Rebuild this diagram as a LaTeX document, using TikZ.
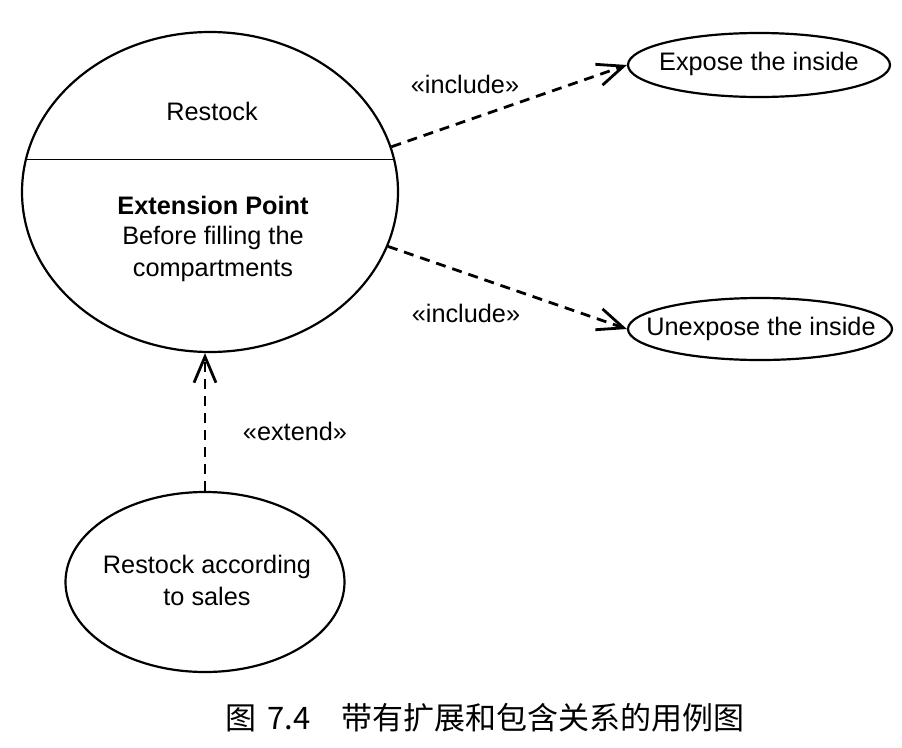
\documentclass[tikz,border=0pt]{standalone}
\usepackage{fontspec}
\setmainfont{Liberation Sans}
\newfontfamily\cjk{Noto Sans CJK SC}
\usetikzlibrary{shapes.geometric,arrows.meta}
\tikzset{
  usecase/.style={draw, ellipse, line width=2.2pt, inner sep=0pt},
  lbl/.style={font=\fontsize{25.3}{32}\selectfont, inner sep=0pt, align=center},
  dep/.style={line width=2.8pt, dash pattern=on 10pt off 7pt,
    -{Straight Barb[length=26pt,width=22pt,line width=2.8pt]}},
}
\begin{document}
\begin{tikzpicture}[x=1pt,y=-1pt]
\useasboundingbox[fill=white] (0,0) rectangle (902,747);
% use cases
\node[usecase, minimum width=376pt, minimum height=320pt] (restock) at (210,192) {};
\draw[line width=1.3pt] (restock.170) -- (restock.10);
\node[lbl] (rtitle) at (212,111) {Restock};
\node[lbl] (ept) at (213,205) {\bfseries Extension Point};
\node[lbl] (eptxt) at (213,254) {Before filling the\\compartments};
\node[usecase, minimum width=262pt, minimum height=64pt] (expose) at (759,65) {};
\node[lbl] (exposet) at (759,64) {Expose the inside};
\node[usecase, minimum width=264pt, minimum height=62pt] (unexpose) at (760,329) {};
\node[lbl] (unexposet) at (761,329) {Unexpose the inside};
\node[usecase, minimum width=279pt, minimum height=180pt] (sales) at (205,582) {};
\node[lbl] (salest) at (207,580) {Restock according\\to sales};
% dependencies
\draw[dep] (restock.14) -- (expose.west);
\draw[dep] (restock.-17) -- (unexpose.west);
\draw[dep] (sales.north) -- (restock.south -| sales.north);
\node[lbl] (inc1) at (465,84) {«include»};
\node[lbl] (inc2) at (466,313) {«include»};
\node[lbl] (ext) at (295,431) {«extend»};
% caption
\node[font=\cjk\fontsize{31}{34}\selectfont, inner sep=0pt] (cap) at (485,718) {图\hspace{0.35em}7.4\hspace{1.0em}带有扩展和包含关系的用例图};
\end{tikzpicture}
\end{document}
